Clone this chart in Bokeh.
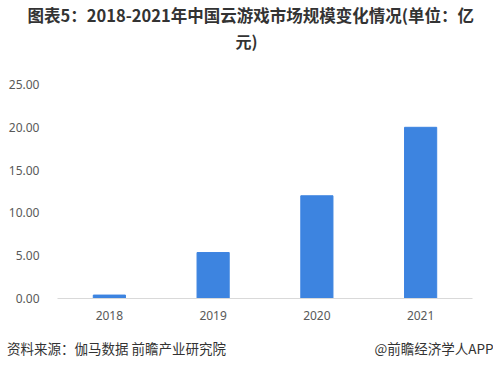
from bokeh.plotting import figure
from bokeh.models import Range1d, Title, LinearAxis, FixedTicker
from bokeh.embed import file_html
from bokeh.resources import INLINE

years = ["2018", "2019", "2020", "2021"]
values = [0.4, 5.37, 12.0, 20.0]
y_ticks = [0, 5, 10, 15, 20, 25]
title_line1 = "图表5：2018-2021年中国云游戏市场规模变化情况(单位：亿"
title_line2 = "元)"
source_text = "资料来源：伽马数据 前瞻产业研究院"
credit_text = "@前瞻经济学人APP"

W, H = 493, 368
cjk = "Noto Sans CJK SC"

xpos = [i + 0.5 for i in range(len(years))]

p = figure(width=W, height=H, output_backend="svg",
           toolbar_location=None, min_border_left=57, min_border_right=21,
           min_border_top=83, min_border_bottom=70,
           x_range=Range1d(0, len(years)), y_range=Range1d(0, 25))
p.vbar(x=xpos, top=values, width=0.31, color="#3D84E0")
p.xgrid.visible = False
p.ygrid.visible = False
p.outline_line_color = None
p.xaxis.ticker = FixedTicker(ticks=xpos)
p.xaxis.major_label_overrides = {x: y for x, y in zip(xpos, years)}
p.yaxis.ticker = FixedTicker(ticks=y_ticks)
p.yaxis.major_label_overrides = {t: f"{t:.2f}" for t in y_ticks}
p.yaxis.axis_line_color = None
p.yaxis.major_tick_line_color = None
p.yaxis.minor_tick_line_color = None
p.yaxis.major_label_standoff = 12
p.xaxis.axis_line_color = "#D9D9D9"
p.xaxis.major_tick_line_color = None
p.xaxis.minor_tick_line_color = None
p.xaxis.major_label_standoff = 6
for ax in (p.xaxis, p.yaxis):
    ax.major_label_text_font = "Noto Sans"
    ax.major_label_text_font_size = "12px"
    ax.major_label_text_color = "#595959"

# spacer between frame and title, then title lines (inner first)
p.add_layout(Title(text=" ", text_font_size="1px", standoff=29), "above")
p.add_layout(Title(text=title_line2, align="left", offset=178, standoff=0,
                   text_font=cjk, text_font_size="16px", text_font_style="bold",
                   text_color="#333333"), "above")
p.add_layout(Title(text=title_line1, align="left", offset=-30, standoff=0,
                   text_font=cjk, text_font_size="16.5px", text_font_style="bold",
                   text_color="#333333"), "above")

# footer texts as labels of a pixel-mapped axis below the chart
p.extra_x_ranges = {"px": Range1d(57, 472)}
src_center, credit_center = 116, 434
foot = LinearAxis(x_range_name="px", ticker=FixedTicker(ticks=[src_center, credit_center]),
                  major_label_overrides={src_center: source_text, credit_center: credit_text})
foot.axis_line_color = None
foot.major_tick_line_color = None
foot.minor_tick_line_color = None
foot.major_label_standoff = 9
foot.major_label_text_font = cjk
foot.major_label_text_font_size = "13.5px"
foot.major_label_text_color = "#333333"
p.add_layout(foot, "below")

open("out.html", "w").write(file_html(p, INLINE))
